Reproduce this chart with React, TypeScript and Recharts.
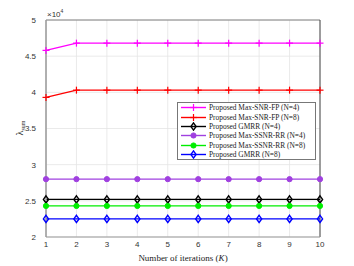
import React from "react";
import {
  LineChart,
  Line,
  XAxis,
  YAxis,
  CartesianGrid,
  ReferenceLine,
} from "recharts";

const iterations = [1, 2, 3, 4, 5, 6, 7, 8, 9, 10];
const yTicks = [20000, 25000, 30000, 35000, 40000, 45000, 50000];

const fpN4 = [45800, 46800, 46800, 46800, 46800, 46800, 46800, 46800, 46800, 46800];
const fpN8 = [39300, 40300, 40300, 40300, 40300, 40300, 40300, 40300, 40300, 40300];
const gmrrN4 = [25200, 25200, 25200, 25200, 25200, 25200, 25200, 25200, 25200, 25200];
const rrN4 = [28000, 28000, 28000, 28000, 28000, 28000, 28000, 28000, 28000, 28000];
const rrN8 = [24300, 24300, 24300, 24300, 24300, 24300, 24300, 24300, 24300, 24300];
const gmrrN8 = [22500, 22500, 22500, 22500, 22500, 22500, 22500, 22500, 22500, 22500];

const data = iterations.map((k, i) => ({
  k,
  fpN4: fpN4[i],
  fpN8: fpN8[i],
  gmrrN4: gmrrN4[i],
  rrN4: rrN4[i],
  rrN8: rrN8[i],
  gmrrN8: gmrrN8[i],
}));

type Marker = "plus" | "diamond" | "circle";

const series: { key: string; name: string; color: string; marker: Marker }[] = [
  { key: "fpN4", name: "Proposed Max-SNR-FP (N=4)", color: "#ff00ff", marker: "plus" },
  { key: "fpN8", name: "Proposed Max-SNR-FP (N=8)", color: "#ff0000", marker: "plus" },
  { key: "gmrrN4", name: "Proposed GMRR (N=4)", color: "#000000", marker: "diamond" },
  { key: "rrN4", name: "Proposed Max-SSNR-RR (N=4)", color: "#a040e0", marker: "circle" },
  { key: "rrN8", name: "Proposed Max-SSNR-RR (N=8)", color: "#00ee00", marker: "circle" },
  { key: "gmrrN8", name: "Proposed GMRR (N=8)", color: "#0000ff", marker: "diamond" },
];

function drawMarker(marker: Marker, color: string, cx: number, cy: number, key?: string) {
  if (marker === "plus") {
    return (
      <g key={key}>
        <line x1={cx - 3.5} y1={cy} x2={cx + 3.5} y2={cy} stroke={color} strokeWidth={1.2} />
        <line x1={cx} y1={cy - 3.5} x2={cx} y2={cy + 3.5} stroke={color} strokeWidth={1.2} />
      </g>
    );
  }
  if (marker === "diamond") {
    return (
      <polygon
        key={key}
        points={`${cx},${cy - 3.6} ${cx + 2.6},${cy} ${cx},${cy + 3.6} ${cx - 2.6},${cy}`}
        fill="none"
        stroke={color}
        strokeWidth={1.4}
      />
    );
  }
  return <circle key={key} cx={cx} cy={cy} r={2.6} fill={color} stroke={color} />;
}

function LegendBox() {
  return (
    <div
      style={{
        position: "absolute",
        left: 177,
        top: 102,
        border: "1px solid #777",
        background: "#fff",
        width: 139,
        height: 58,
        padding: "0",
        fontFamily: "'Liberation Serif', serif",
        fontSize: 7.4,
        color: "#222",
        boxSizing: "border-box",
      }}
    >
      {series.map((s) => (
        <div key={s.key} style={{ display: "flex", alignItems: "center", height: 9.4 }}>
          <svg width={27} height={9} style={{ marginLeft: 2, marginRight: 2 }}>
            <line x1={1} y1={4.5} x2={26} y2={4.5} stroke={s.color} strokeWidth={1.4} />
            {drawMarker(s.marker, s.color, 13.5, 4.5)}
          </svg>
          <span style={{ whiteSpace: "nowrap" }}>{s.name}</span>
        </div>
      ))}
    </div>
  );
}

export default function App() {
  return (
    <div style={{ position: "fixed", left: 0, top: 0, width: 354, height: 266, background: "#fff" }}>
      <LineChart
        width={354}
        height={266}
        data={data}
        margin={{ top: 20, right: 34, left: 0, bottom: 0 }}
      >
        <CartesianGrid stroke="#e4e4e4" strokeWidth={0.8} />
        <XAxis
          dataKey="k"
          type="number"
          domain={[1, 10]}
          ticks={iterations}
          height={29}
          stroke="#999"
          strokeWidth={1}
          tickLine={false}
          tickSize={4}
          tick={{ fontSize: 8, fill: "#333", fontFamily: "'Liberation Sans', sans-serif" }}
          tickMargin={0}
          label={{
            content: () => (
              <text
                x={183}
                y={261}
                textAnchor="middle"
                fontFamily="'Liberation Serif', serif"
                fontSize={9}
                fill="#222"
              >
                Number of iterations (<tspan fontStyle="italic">K</tspan>)
              </text>
            ),
          }}
        />
        <YAxis
          type="number"
          domain={[20000, 50000]}
          ticks={yTicks}
          width={46}
          stroke="#999"
          strokeWidth={1.5}
          tickLine={false}
          tick={{ fontSize: 8, fill: "#333", fontFamily: "'Liberation Sans', sans-serif" }}
          tickMargin={4}
          tickFormatter={(v: number) => `${v / 10000}`}
          label={{
            content: () => (
              <g>
                <text
                  transform="translate(23,128) rotate(-90)"
                  textAnchor="middle"
                  fontFamily="'Liberation Serif', serif"
                  fontSize={10}
                  fill="#222"
                >
                  λ<tspan fontSize={6} dy={2}>sum</tspan>
                </text>
                <text x={47} y={17} fontFamily="'Liberation Sans', sans-serif" fontSize={8} fill="#333">
                  ×10<tspan fontSize={5} dy={-4}>4</tspan>
                </text>
              </g>
            ),
          }}
        />
        <ReferenceLine y={50000} stroke="#666" strokeWidth={0.8} />
        <ReferenceLine x={10} stroke="#444" strokeWidth={1} />
        {series.map((s) => (
          <Line
            key={s.key}
            dataKey={s.key}
            name={s.name}
            stroke={s.color}
            strokeWidth={1.4}
            isAnimationActive={false}
            dot={(p: any) => drawMarker(s.marker, s.color, p.cx, p.cy, `${s.key}-${p.index}`)}
            activeDot={false}
          />
        ))}
      </LineChart>
      <LegendBox />
    </div>
  );
}
